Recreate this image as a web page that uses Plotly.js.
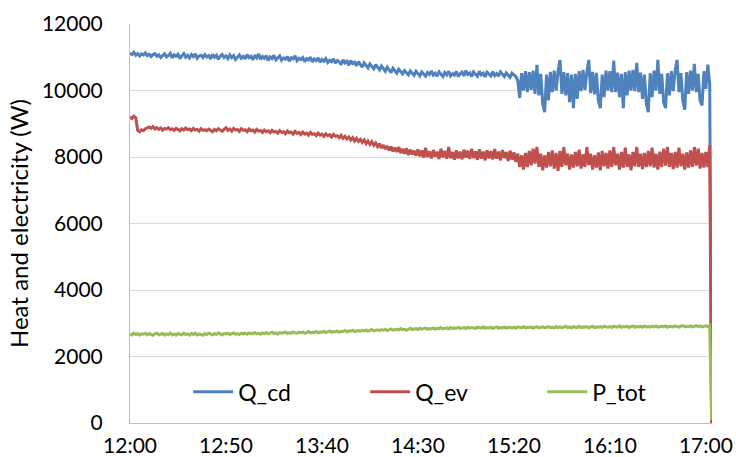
<!DOCTYPE html>
<html>
<head>
<meta charset="utf-8">
<script src="https://cdn.plot.ly/plotly-3.0.1.min.js"></script>
<style>
html,body{margin:0;padding:0;background:#fff;}
#chart{width:736px;height:457px;}
</style>
</head>
<body>
<div id="chart"></div>
<script>
// Sampling: one reading per minute, starting at 12:00 (minute 0)
const startMinute = 0;
const stepMinutes = 1;

const tickMinutes = [0, 50, 100, 150, 200, 250, 300];
const tickLabels = ["12:00", "12:50", "13:40", "14:30", "15:20", "16:10", "17:00"];

const seriesNames = ["Q_cd", "Q_ev", "P_tot"];

const qCd = [
11120,11080,11150,11060,11110,11040,11100,11070,11130,11050,
11090,11020,11080,11110,11030,11070,10990,11060,11100,11010,
11050,11120,10980,11070,11030,11090,10960,11040,11110,11000,
11060,10980,11080,11020,11100,10970,11040,11060,10990,11080,
11010,11050,10950,11090,11000,11060,10940,11030,11080,10990,
11040,10960,11070,10990,11050,10930,11020,11070,10970,11030,
10950,11080,10990,11030,10920,11060,10980,11100,10940,11020,
10970,11050,10900,11010,10960,11060,10920,10990,11040,10910,
10980,10940,11020,10880,10990,10950,11040,10900,10970,10930,
10990,10870,10960,10920,11000,10860,10950,10900,10980,10850,
10930,10880,10960,10840,10910,10870,10950,10820,10900,10860,
10780,10920,10830,10880,10760,10900,10810,10850,10740,10870,
10790,10700,10830,10760,10680,10800,10720,10650,10780,10690,
10620,10740,10660,10580,10700,10620,10540,10670,10590,10520,
10640,10560,10500,10600,10530,10470,10590,10520,10460,10580,
10500,10440,10560,10490,10430,10540,10480,10590,10460,10520,
10430,10560,10490,10420,10540,10470,10580,10440,10510,10460,
10570,10420,10500,10550,10440,10600,10480,10530,10420,10560,
10490,10430,10580,10470,10520,10410,10550,10480,10440,10570,
10450,10510,10430,10560,10480,10420,10530,10470,10400,10520,
10480,10420,
10300,9780,10520,10000,10580,9950,10550,10020,10600,9900,
10770,9850,10500,9600,9350,10480,9700,10560,9950,10600,
10000,10580,10920,9900,10550,9850,10520,9650,10480,9470,
10500,9750,10580,9980,10620,10020,10560,10920,9920,10560,
9880,10530,9700,9470,10480,9800,10600,10000,10580,9950,
10900,9950,10540,9800,10500,9470,10550,9850,10600,10000,
10620,9980,10830,9950,10540,9750,10480,9600,9350,10520,
9800,10600,10000,10920,9900,10500,9650,9470,10520,9850,
10580,9980,10620,10920,9950,10520,9700,9420,10550,9900,
10600,10000,10800,9950,10500,9700,9550,10580,10050,10780,
10200,
50
];

const qEv = [
9200,9160,9230,9180,8800,8760,8820,8790,8850,8880,
8900,8860,8910,8840,8880,8830,8870,8810,8860,8840,
8880,8820,8850,8800,8860,8830,8790,8850,8810,8870,
8820,8840,8790,8860,8810,8830,8780,8850,8800,8820,
8790,8840,8800,8760,8830,8790,8850,8800,8770,8830,
8880,8800,8840,8780,8860,8810,8830,8770,8850,8800,
8820,8760,8840,8790,8810,8750,8830,8780,8800,8740,
8810,8760,8790,8730,8800,8750,8770,8720,8790,8740,
8760,8700,8780,8730,8750,8690,8770,8710,8740,8680,
8750,8690,8720,8660,8740,8680,8700,8640,8720,8660,
8690,8620,8700,8640,8670,8600,8680,8620,8640,8580,
8650,8560,8620,8540,8600,8510,8580,8480,8560,8470,
8530,8440,8510,8400,8480,8380,8460,8350,8420,8310,
8400,8270,8360,8240,8330,8200,8310,8170,8280,8150,
8300,8120,8240,8100,8260,8060,8220,8080,8190,8040,
8230,8020,8200,7980,8280,8000,8170,7960,8210,8010,
8160,7940,8250,7990,8180,7950,8300,7960,8150,7920,
8200,7960,8160,7930,8220,7980,8190,7940,8250,7970,
8170,7920,8230,7950,8160,7900,8200,7960,8180,7930,
8240,7950,8160,7900,8210,7970,8150,7880,8190,7920,
8140,7850,8100,7700,8050,7620,8120,7700,8180,7750,
8250,7800,8300,7700,8100,7600,8050,7680,8150,7720,
8200,7650,8120,7580,8180,7700,8300,7750,8100,7620,
8080,7680,8150,7720,8220,7650,8080,7700,8300,7760,
8100,7620,8050,7680,8140,7600,8180,7720,8120,7650,
8200,7700,8300,7750,8100,7620,8150,7680,8280,7700,
8080,7600,8150,7720,8300,7700,8100,7640,8120,7700,
8180,7720,8280,7680,8100,7620,8160,7700,8250,7740,
8300,7700,8120,7640,8150,7680,8280,7720,8100,7620,
8140,7680,8200,7700,8300,7740,8250,7650,8120,7680,
8150,7700,8350,0
];

const pTot = [
2680,2650,2700,2660,2690,2640,2680,2670,2700,2650,
2690,2660,2640,2680,2700,2650,2670,2690,2640,2680,
2660,2700,2650,2680,2640,2690,2670,2650,2700,2660,
2680,2640,2690,2660,2700,2650,2680,2670,2640,2690,
2660,2700,2680,2650,2690,2660,2710,2670,2650,2690,
2680,2700,2660,2690,2710,2670,2690,2660,2700,2680,
2700,2670,2710,2680,2690,2720,2680,2700,2670,2710,
2690,2720,2680,2700,2730,2690,2710,2680,2720,2700,
2710,2730,2690,2720,2700,2740,2710,2700,2730,2710,
2740,2700,2720,2750,2710,2730,2720,2750,2710,2740,
2730,2760,2720,2740,2770,2730,2750,2740,2770,2730,
2760,2750,2780,2740,2770,2760,2790,2750,2770,2780,
2760,2790,2770,2800,2760,2780,2810,2770,2790,2800,
2780,2810,2790,2820,2780,2800,2830,2790,2810,2820,
2800,2840,2810,2820,2790,2830,2850,2810,2820,2840,
2810,2850,2820,2840,2860,2820,2840,2830,2860,2820,
2850,2840,2870,2830,2850,2860,2830,2870,2840,2860,
2850,2880,2840,2860,2870,2840,2880,2850,2870,2860,
2840,2880,2860,2850,2890,2850,2870,2860,2880,2840,
2870,2890,2850,2870,2860,2890,2850,2880,2870,2860,
2880,2850,2890,2870,2860,2900,2860,2880,2870,2890,
2850,2880,2900,2860,2870,2890,2860,2880,2900,2870,
2880,2860,2900,2870,2890,2860,2880,2910,2870,2890,
2860,2900,2880,2870,2910,2870,2890,2880,2900,2860,
2890,2910,2870,2890,2880,2900,2870,2910,2890,2880,
2900,2870,2910,2890,2880,2920,2880,2900,2890,2910,
2870,2900,2920,2880,2900,2890,2910,2880,2920,2890,
2900,2880,2910,2890,2920,2880,2900,2910,2890,2920,
2880,2910,2900,2890,2920,2900,2880,2910,2930,2890,
2910,2900,2920,2890,2910,2930,2900,2920,2890,2910,
2920,2900,2930,90
];

const colors = ["#4F81BD", "#C0504D", "#9BBB59"];
const FONT = "Lato, 'Open Sans', sans-serif";

const minutes = qCd.map((_, i) => startMinute + i * stepMinutes);

const data = [qCd, qEv, pTot].map((vals, k) => ({
  type: "scatter",
  mode: "lines",
  name: seriesNames[k],
  x: minutes,
  y: vals,
  line: {color: colors[k], width: 3}
}));

const layout = {
  width: 736, height: 457,
  paper_bgcolor: "#fff", plot_bgcolor: "#fff",
  margin: {l: 130, r: 24, t: 24, b: 34, autoexpand: false},
  font: {family: FONT, size: 21, color: "#000"},
  showlegend: true,
  legend: {
    orientation: "h", x: 0.1, y: 0.078, xanchor: "left", yanchor: "middle",
    itemwidth: 40,
    entrywidth: 122, entrywidthmode: "pixels",
    font: {family: FONT, size: 23, color: "#000"},
    bgcolor: "rgba(0,0,0,0)", itemclick: false
  },
  xaxis: {
    range: [0, 303.2],
    tickvals: tickMinutes, ticktext: tickLabels,
    showgrid: false, zeroline: false,
    showline: true, linecolor: "#BFBFBF", linewidth: 1,
    ticks: "", ticklabelstandoff: 4, automargin: false,
    tickfont: {family: FONT, size: 21, color: "#000"}
  },
  yaxis: {
    range: [0, 12000],
    tickvals: [0, 2000, 4000, 6000, 8000, 10000, 12000],
    tickformat: "d",
    showgrid: true, gridcolor: "#D9D9D9", gridwidth: 1,
    zeroline: false,
    showline: true, linecolor: "#BFBFBF", linewidth: 1,
    ticks: "", ticklabelstandoff: 22, automargin: false,
    tickfont: {family: FONT, size: 21, color: "#000"},
    title: {text: "Heat and electricity (W)", font: {family: FONT, size: 24, color: "#000"}, standoff: 6}
  }
};

Plotly.newPlot("chart", data, layout, {staticPlot: true, displayModeBar: false});
</script>
</body>
</html>
